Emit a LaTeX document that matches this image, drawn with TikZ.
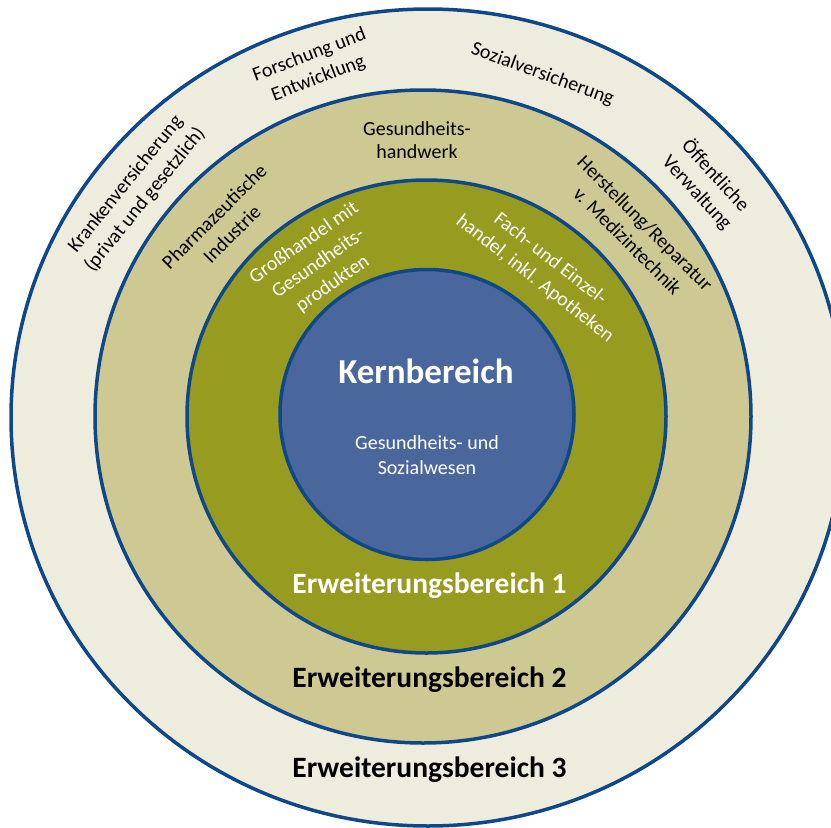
\documentclass[tikz,border=0pt]{standalone}
\usepackage{fontspec}
\setmainfont{Carlito}
\definecolor{ringline}{RGB}{14,72,136}
\definecolor{ringthree}{RGB}{238,236,220}
\definecolor{ringtwo}{RGB}{206,201,147}
\definecolor{ringone}{RGB}{151,155,31}
\definecolor{corefill}{RGB}{74,103,157}
\begin{document}
\begin{tikzpicture}[x=1pt,y=-1pt,
  ring/.style={draw=ringline, line width=3.5pt},
  lbl/.style={font=\fontsize{20}{25}\selectfont, align=center, inner sep=0pt},
  blk/.style={lbl, text=black},
  wht/.style={lbl, text=white},
  ttl/.style={font=\bfseries\fontsize{29.5}{34}\selectfont, inner sep=0pt, anchor=base}]
\useasboundingbox (0,0) rectangle (831,828);
\fill[white] (0,0) rectangle (831,828);
\begin{scope}
\clip (0,0) rectangle (831,828);
\filldraw[ring, fill=ringthree] (428,417.5) ellipse [x radius=417, y radius=408.5];
\filldraw[ring, fill=ringtwo] (423,416.5) ellipse [x radius=328, y radius=326.5];
\filldraw[ring, fill=ringone] (426.5,416.5) ellipse [x radius=239.5, y radius=236.5];
\filldraw[ring, fill=corefill] (427,414.5) ellipse [x radius=147, y radius=145];
\end{scope}
% core
\node[ttl, text=white, font=\bfseries\fontsize{35}{40}\selectfont] (kern) at (426,383) {Kernbereich};
\node[lbl, text=white, anchor=base] (gsw1) at (427,449) {Gesundheits- und};
\node[lbl, text=white, anchor=base] (gsw2) at (427,474) {Sozialwesen};
% titles
\node[ttl, text=white] (eb1) at (429.5,593) {Erweiterungsbereich 1};
\node[ttl, text=black] (eb2) at (429.5,687) {Erweiterungsbereich 2};
\node[ttl, text=black] (eb3) at (429.5,777) {Erweiterungsbereich 3};
% ring 1
\node[wht, rotate=35] (grosshandel) at (318.5,263.5) {Großhandel mit\\Gesundheits-\\produkten};
\node[wht, rotate=-38] (fach) at (542.5,269) {Fach- und Einzel-\\handel, inkl. Apotheken};
% ring 2
\node[lbl, anchor=base] (ghw1) at (417,135) {Gesundheits-};
\node[lbl, anchor=base] (ghw2) at (417,158) {handwerk};
\node[blk, rotate=45] (pharma) at (223,225) {Pharmazeutische\\Industrie};
\node[blk, rotate=-45] (herst) at (636.5,232) {Herstellung/Reparatur\\v. Medizintechnik};
% ring 3
\node[blk, rotate=51] (kranken) at (135.5,192) {Krankenversicherung\\(privat und gesetzlich)};
\node[blk, rotate=21] (forschung) at (314,67) {Forschung und\\Entwicklung};
\node[blk, rotate=-20] (sozial) at (542.5,74.5) {Sozialversicherung};
\node[blk, rotate=-47.5] (oeff) at (706.5,184) {Öffentliche\\Verwaltung};
\end{tikzpicture}
\end{document}
